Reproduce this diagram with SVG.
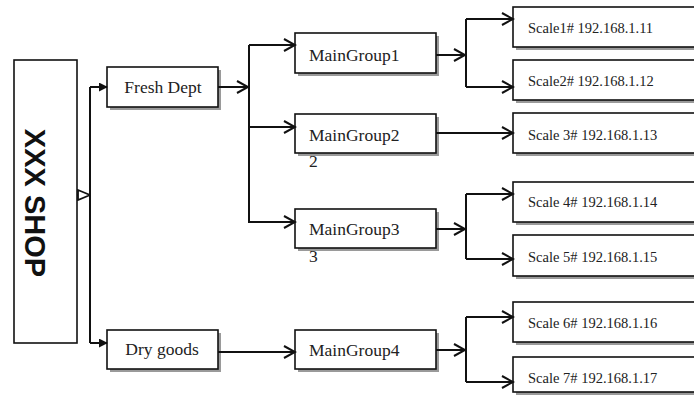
<svg xmlns="http://www.w3.org/2000/svg" width="694" height="397" viewBox="0 0 694 397">
<style>
.box{fill:#fff;stroke:#111;stroke-width:1.6}
.sh{fill:#9a9a9a}
.t{font-family:"Liberation Serif","Times New Roman",serif;font-size:17.5px;fill:#222}
.s{font-family:"Liberation Serif","Times New Roman",serif;font-size:14.5px;fill:#222}
.c{stroke:#111;stroke-width:2;fill:none}
</style>
<defs>
<marker id="open" viewBox="0 0 14 14" markerWidth="14" markerHeight="14" refX="12" refY="7" orient="auto" markerUnits="userSpaceOnUse">
<path d="M1,1 L12,7 L1,13" fill="none" stroke="#111" stroke-width="2"/>
</marker>
<marker id="fill" viewBox="0 0 10 10" markerWidth="9" markerHeight="9" refX="9" refY="5" orient="auto" markerUnits="userSpaceOnUse">
<path d="M0,0 L10,5 L0,10 z" fill="#111"/>
</marker>
<marker id="tri" viewBox="0 0 14 12" markerWidth="14" markerHeight="12" refX="13" refY="6" orient="auto" markerUnits="userSpaceOnUse">
<path d="M1,1 L13,6 L1,11 z" fill="#fff" stroke="#111" stroke-width="1.8"/>
</marker>
</defs>
<rect width="694" height="397" fill="#fff"/>

<g id="shop">
<rect class="box" x="14" y="60" width="63" height="283"/>
<text transform="translate(25,203) rotate(90)" text-anchor="middle" font-family="Liberation Sans,Arial,sans-serif" font-weight="bold" font-size="29" fill="#111">XXX SHOP</text>
</g>

<g id="fresh">
<rect class="sh" x="110" y="70" width="111" height="40"/>
<rect class="box" x="107" y="67" width="111" height="40"/>
<text class="t" x="163" y="93" text-anchor="middle">Fresh Dept</text>
</g>

<g id="dry">
<rect class="sh" x="110" y="333" width="111" height="39"/>
<rect class="box" x="107" y="330" width="111" height="39"/>
<text class="t" x="162" y="355" text-anchor="middle">Dry goods</text>
</g>

<g id="mg1">
<rect class="sh" x="298" y="36" width="141" height="40"/>
<rect class="box" x="295" y="33" width="141" height="40"/>
<text class="t" x="309" y="61">MainGroup1</text>
</g>
<g id="mg2">
<rect class="sh" x="298" y="117" width="141" height="39"/>
<rect class="box" x="295" y="114" width="141" height="39"/>
<text class="t" x="309" y="141">MainGroup2</text>
<text class="t" x="309" y="167">2</text>
</g>
<g id="mg3">
<rect class="sh" x="298" y="212" width="141" height="39"/>
<rect class="box" x="295" y="209" width="141" height="39"/>
<text class="t" x="309" y="235">MainGroup3</text>
<text class="t" x="309" y="262">3</text>
</g>
<g id="mg4">
<rect class="sh" x="298" y="333" width="141" height="39"/>
<rect class="box" x="295" y="330" width="141" height="39"/>
<text class="t" x="309" y="356">MainGroup4</text>
</g>

<g id="scale1">
<rect class="sh" x="516" y="10" width="190" height="40"/>
<rect class="box" x="513" y="7" width="190" height="40"/>
<text class="s" x="528" y="33">Scale1# 192.168.1.11</text>
</g>
<g id="scale2">
<rect class="sh" x="516" y="63" width="190" height="40"/>
<rect class="box" x="513" y="60" width="190" height="40"/>
<text class="s" x="528" y="86">Scale2# 192.168.1.12</text>
</g>
<g id="scale3">
<rect class="sh" x="516" y="116" width="190" height="40"/>
<rect class="box" x="513" y="113" width="190" height="40"/>
<text class="s" x="528" y="140">Scale 3# 192.168.1.13</text>
</g>
<g id="scale4">
<rect class="sh" x="516" y="185" width="190" height="40"/>
<rect class="box" x="513" y="182" width="190" height="40"/>
<text class="s" x="528" y="207">Scale 4# 192.168.1.14</text>
</g>
<g id="scale5">
<rect class="sh" x="516" y="238" width="190" height="41"/>
<rect class="box" x="513" y="235" width="190" height="41"/>
<text class="s" x="528" y="262">Scale 5# 192.168.1.15</text>
</g>
<g id="scale6">
<rect class="sh" x="516" y="305" width="190" height="40"/>
<rect class="box" x="513" y="302" width="190" height="40"/>
<text class="s" x="528" y="328">Scale 6# 192.168.1.16</text>
</g>
<g id="scale7">
<rect class="sh" x="516" y="360" width="190" height="35"/>
<rect class="box" x="513" y="357" width="190" height="35"/>
<text class="s" x="528" y="383">Scale 7# 192.168.1.17</text>
</g>

<g id="connectors">
<path class="c" d="M77,195 H90" marker-end="url(#tri)"/>
<path class="c" d="M90,87 V343"/>
<path class="c" d="M90,87 H107" marker-end="url(#fill)"/>
<path class="c" d="M90,343 H107" marker-end="url(#fill)"/>
<path class="c" d="M218,87 H248" marker-end="url(#open)"/>
<path class="c" d="M249,45 V223"/>
<path class="c" d="M249,45 H295" marker-end="url(#open)"/>
<path class="c" d="M249,127 H295" marker-end="url(#open)"/>
<path class="c" d="M249,222 H295" marker-end="url(#open)"/>
<path class="c" d="M218,352 H295" marker-end="url(#open)"/>
<path class="c" d="M436,55 H465" marker-end="url(#open)"/>
<path class="c" d="M466,19 V87"/>
<path class="c" d="M466,19 H513" marker-end="url(#open)"/>
<path class="c" d="M466,87 H513" marker-end="url(#open)"/>
<path class="c" d="M436,133 H513" marker-end="url(#open)"/>
<path class="c" d="M436,229 H465" marker-end="url(#open)"/>
<path class="c" d="M466,194 V259"/>
<path class="c" d="M466,194 H513" marker-end="url(#open)"/>
<path class="c" d="M466,259 H513" marker-end="url(#open)"/>
<path class="c" d="M436,350 H465" marker-end="url(#open)"/>
<path class="c" d="M466,317 V382"/>
<path class="c" d="M466,317 H513" marker-end="url(#open)"/>
<path class="c" d="M466,382 H513" marker-end="url(#open)"/>
</g>
</svg>
